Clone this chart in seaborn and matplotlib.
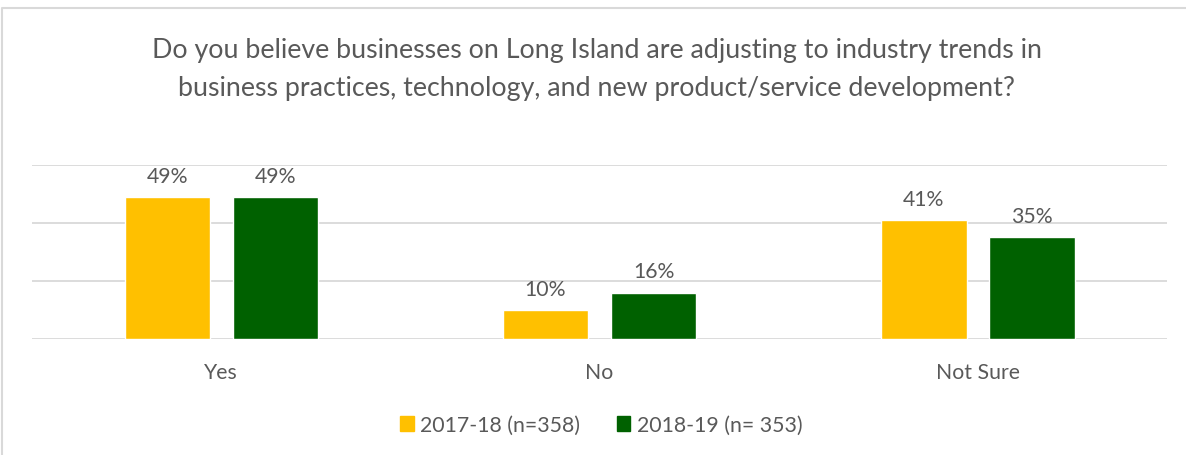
import pandas as pd
import matplotlib.pyplot as plt
import seaborn as sns
from matplotlib.lines import Line2D

# ------------------------------------------------------------
# Data
# ------------------------------------------------------------
answers = ["Yes", "No", "Not Sure"]
series_names = ["2017-18 (n=358)", "2018-19 (n= 353)"]
pct_2017 = [49, 10, 41]
pct_2018 = [49, 16, 35]
colors = ["#FFC000", "#006100"]

title = ("Do you believe businesses on Long Island are adjusting to industry trends in\n"
         "business practices, technology, and new product/service development?")

df = pd.DataFrame({
    "answer": answers * 2,
    "series": [series_names[0]] * 3 + [series_names[1]] * 3,
    "pct": pct_2017 + pct_2018,
})

sns.set_style("white")
plt.rcParams["font.family"] = ["Lato", "DejaVu Sans"]
text_col = "#595959"

fig = plt.figure(figsize=(11.86, 4.56), dpi=100)
ax = fig.add_axes([0.027, 0.2544, 0.957, 0.3816])

sns.barplot(data=df, x="answer", y="pct", hue="series", order=answers,
            hue_order=series_names, palette=dict(zip(series_names, colors)),
            width=0.571, gap=0.21, ax=ax, legend=False, saturation=1)

for cont in ax.containers:
    ax.bar_label(cont, labels=[f"{v:.0f}%" for v in cont.datavalues],
                 padding=8, fontsize=15.3, color=text_col)

ax.set_ylim(0, 60)
ax.set_yticks([0, 20, 40, 60])
ax.yaxis.grid(True, color="#d9d9d9", linewidth=1.3)
ax.set_axisbelow(True)
ax.tick_params(axis="y", left=False, labelleft=False)
ax.tick_params(axis="x", bottom=False, pad=13, labelsize=15.3, labelcolor=text_col)
ax.set_xlabel("")
ax.set_ylabel("")
for s in ax.spines.values():
    s.set_visible(False)

fig.text(0.503, 0.848, title, ha="center", va="center", fontsize=19.3,
         color=text_col, linespacing=1.65)

handles = [plt.Rectangle((0, 0), 1, 1, color=c) for c in colors]
fig.legend(handles, series_names, loc="center", bbox_to_anchor=(0.507, 0.066),
           ncol=2, frameon=False, fontsize=15.3, labelcolor=text_col,
           handlelength=0.65, handleheight=0.65, handletextpad=0.3, columnspacing=1.7)

# chart area border (only left and top visible in the crop)
fig.add_artist(Line2D([2 / 1186, 2 / 1186, 1.0], [0.0, 1 - 9 / 456, 1 - 9 / 456],
                      transform=fig.transFigure, color="#d9d9d9", linewidth=1.5))

fig.savefig("out.png", dpi=100)
